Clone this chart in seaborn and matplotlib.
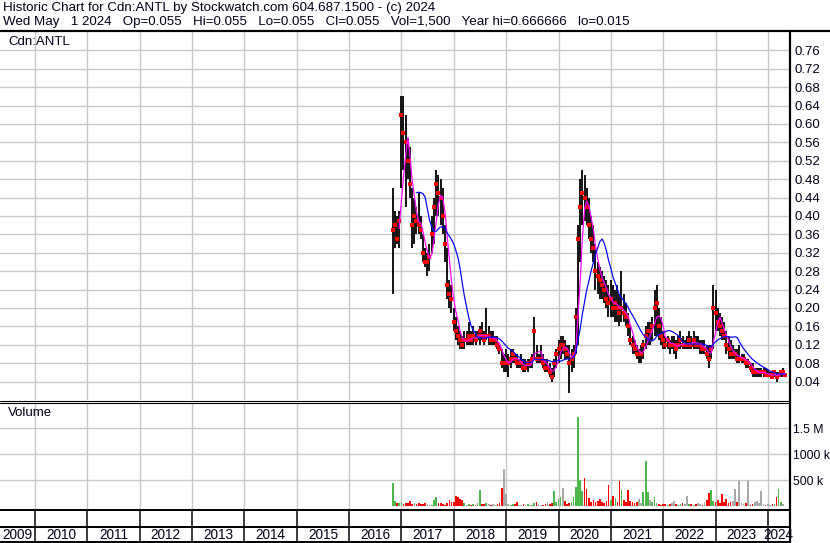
import numpy as np
import pandas as pd
import matplotlib
matplotlib.use("Agg")
import matplotlib.pyplot as plt
from matplotlib.lines import Line2D
import seaborn as sns

# semimonthly bars, Nov 2016 .. May 2024
period_start = "2016-11-01"
period_end = "2024-05-01"

highs = [
    0.46, 0.41, 0.40, 0.41,
    0.66, 0.66, 0.62, 0.57, 0.55, 0.46, 0.44, 0.42, 0.45, 0.40, 0.36, 0.33,
    0.32, 0.34, 0.40, 0.44, 0.50, 0.49, 0.48, 0.46, 0.38, 0.33, 0.26, 0.25,
    0.20, 0.18, 0.16, 0.15, 0.14, 0.15, 0.15, 0.17, 0.15, 0.16, 0.15, 0.15,
    0.16, 0.17, 0.15, 0.20, 0.16, 0.15, 0.15, 0.14, 0.14, 0.12, 0.11, 0.10,
    0.11, 0.10, 0.11, 0.11, 0.10, 0.10, 0.09, 0.10, 0.09, 0.09, 0.09, 0.09,
    0.10, 0.18, 0.12, 0.10, 0.12, 0.10, 0.09, 0.09, 0.08, 0.07, 0.09, 0.11,
    0.13, 0.14, 0.14, 0.13, 0.12, 0.12, 0.11, 0.12, 0.20, 0.38, 0.48, 0.50,
    0.49, 0.46, 0.44, 0.40, 0.38, 0.34, 0.30, 0.29, 0.28, 0.27, 0.26, 0.25,
    0.26, 0.25, 0.24, 0.25, 0.23, 0.28, 0.23, 0.21, 0.19, 0.16, 0.14, 0.13,
    0.12, 0.11, 0.12, 0.13, 0.16, 0.17, 0.17, 0.18, 0.24, 0.25, 0.20, 0.18,
    0.15, 0.14, 0.14, 0.13, 0.14, 0.14, 0.13, 0.14, 0.15, 0.14, 0.13, 0.14,
    0.15, 0.14, 0.15, 0.14, 0.14, 0.13, 0.13, 0.13, 0.12, 0.12, 0.12, 0.25,
    0.24, 0.20, 0.19, 0.18, 0.17, 0.15, 0.14, 0.13, 0.12, 0.11, 0.11, 0.12,
    0.10, 0.10, 0.09, 0.09, 0.08, 0.08, 0.07, 0.07, 0.07, 0.07, 0.07, 0.07,
    0.065, 0.06, 0.06, 0.065, 0.06, 0.06, 0.065, 0.07, 0.055,
]
lows = [
    0.23, 0.33, 0.34, 0.33,
    0.46, 0.50, 0.42, 0.48, 0.44, 0.33, 0.34, 0.36, 0.36, 0.35, 0.30, 0.29,
    0.27, 0.28, 0.32, 0.34, 0.40, 0.40, 0.38, 0.36, 0.30, 0.22, 0.20, 0.19,
    0.15, 0.13, 0.12, 0.11, 0.11, 0.11, 0.12, 0.12, 0.12, 0.12, 0.12, 0.13,
    0.12, 0.13, 0.12, 0.13, 0.12, 0.12, 0.12, 0.12, 0.11, 0.10, 0.07, 0.06,
    0.06, 0.05, 0.07, 0.08, 0.08, 0.07, 0.07, 0.07, 0.06, 0.06, 0.06, 0.07,
    0.07, 0.09, 0.08, 0.08, 0.08, 0.07, 0.06, 0.06, 0.05, 0.04, 0.05, 0.07,
    0.08, 0.09, 0.10, 0.09, 0.09, 0.015, 0.06, 0.07, 0.10, 0.12, 0.30, 0.38,
    0.39, 0.38, 0.35, 0.32, 0.30, 0.24, 0.23, 0.22, 0.22, 0.21, 0.20, 0.18,
    0.18, 0.18, 0.17, 0.17, 0.16, 0.17, 0.17, 0.16, 0.14, 0.12, 0.10, 0.10,
    0.09, 0.08, 0.08, 0.09, 0.11, 0.12, 0.12, 0.13, 0.14, 0.14, 0.13, 0.12,
    0.11, 0.11, 0.11, 0.10, 0.11, 0.10, 0.09, 0.11, 0.11, 0.11, 0.11, 0.11,
    0.11, 0.11, 0.11, 0.11, 0.11, 0.10, 0.10, 0.10, 0.09, 0.07, 0.09, 0.11,
    0.15, 0.15, 0.14, 0.13, 0.13, 0.10, 0.09, 0.09, 0.09, 0.09, 0.08, 0.08,
    0.08, 0.08, 0.07, 0.07, 0.06, 0.05, 0.05, 0.05, 0.05, 0.05, 0.05, 0.05,
    0.05, 0.05, 0.05, 0.05, 0.04, 0.05, 0.05, 0.05, 0.055,
]
closes = [
    0.37, 0.38, 0.35, 0.39,
    0.62, 0.58, 0.56, 0.52, 0.47, 0.38, 0.40, 0.39, 0.38, 0.37, 0.32, 0.30,
    0.30, 0.31, 0.36, 0.42, 0.47, 0.45, 0.44, 0.40, 0.34, 0.25, 0.23, 0.22,
    0.17, 0.15, 0.14, 0.13, 0.12, 0.13, 0.13, 0.14, 0.13, 0.14, 0.13, 0.14,
    0.15, 0.14, 0.13, 0.14, 0.14, 0.13, 0.13, 0.13, 0.12, 0.11, 0.08, 0.08,
    0.08, 0.08, 0.09, 0.10, 0.09, 0.08, 0.08, 0.08, 0.07, 0.07, 0.08, 0.08,
    0.09, 0.15, 0.09, 0.09, 0.09, 0.08, 0.07, 0.07, 0.06, 0.05, 0.08, 0.10,
    0.11, 0.12, 0.12, 0.11, 0.10, 0.08, 0.09, 0.10, 0.18, 0.35, 0.42, 0.45,
    0.44, 0.42, 0.38, 0.35, 0.33, 0.28, 0.27, 0.26, 0.25, 0.24, 0.22, 0.21,
    0.22, 0.20, 0.21, 0.20, 0.19, 0.20, 0.19, 0.18, 0.16, 0.13, 0.12, 0.11,
    0.10, 0.10, 0.10, 0.12, 0.14, 0.15, 0.15, 0.16, 0.20, 0.21, 0.16, 0.14,
    0.13, 0.12, 0.13, 0.12, 0.12, 0.12, 0.11, 0.12, 0.13, 0.12, 0.12, 0.12,
    0.13, 0.12, 0.13, 0.12, 0.12, 0.12, 0.11, 0.11, 0.10, 0.09, 0.11, 0.20,
    0.19, 0.17, 0.16, 0.15, 0.14, 0.12, 0.11, 0.10, 0.10, 0.10, 0.09, 0.09,
    0.09, 0.09, 0.08, 0.08, 0.07, 0.06, 0.06, 0.06, 0.06, 0.06, 0.06, 0.055,
    0.055, 0.055, 0.05, 0.06, 0.05, 0.055, 0.06, 0.06, 0.055,
]
# volume, thousands of shares (tallest daily bar seen in each half month)
volumes_k = [
    441, 102, 60, 57,
    80, 45, 70, 55, 102, 40, 65, 50, 57, 35, 40, 60,
    45, 30, 25, 122, 180, 70, 55, 38, 30, 60, 122, 90,
    85, 199, 173, 148, 115, 60, 25, 50, 30, 45, 25, 55,
    314, 40, 35, 57, 45, 30, 50, 20, 40, 60, 353, 718,
    237, 40, 30, 45, 35, 83, 30, 25, 40, 20, 40, 25,
    30, 60, 80, 45, 30, 25, 40, 83, 50, 60, 294, 90,
    141, 170, 353, 110, 40, 60, 83, 180, 372, 1711, 506, 290,
    538, 329, 150, 90, 120, 80, 110, 140, 90, 60, 100, 408,
    120, 200, 150, 90, 482, 317, 120, 80, 317, 110, 80, 60,
    90, 144, 60, 270, 870, 276, 120, 90, 180, 60, 40, 30,
    40, 50, 30, 40, 60, 100, 40, 30, 50, 60, 40, 196,
    50, 40, 30, 50, 60, 40, 30, 80, 120, 256, 313, 100,
    80, 120, 60, 237, 90, 141, 60, 80, 100, 324, 90, 484,
    60, 40, 70, 484, 30, 40, 90, 100, 60, 292, 40, 30,
    40, 30, 40, 50, 180, 330, 80, 50, 1.5,
]

price_ticks = [0.04, 0.08, 0.12, 0.16, 0.20, 0.24, 0.28, 0.32, 0.36, 0.40,
               0.44, 0.48, 0.52, 0.56, 0.60, 0.64, 0.68, 0.72, 0.76]
volume_ticks = [500e3, 1000e3, 1500e3]
volume_tick_labels = ["500 k", "1000 k", "1.5 M"]
year_labels = list(range(2009, 2025))

header_1 = "Historic Chart for Cdn:ANTL by Stockwatch.com 604.687.1500 - (c) 2024"
header_2 = ("Wed May   1 2024   Op=0.055   Hi=0.055   Lo=0.055   Cl=0.055   "
            "Vol=1,500   Year hi=0.666666   lo=0.015")
symbol = "Cdn:ANTL"

# ---- data frame
dates = pd.date_range(period_start, period_end, freq="SMS")
df = pd.DataFrame({"date": dates, "high": highs, "low": lows,
                   "close": closes, "volume": np.array(volumes_k) * 1000})
df["t"] = dates.year + (dates.dayofyear - 1) / (365 + dates.is_leap_year)
df["ma_short"] = df["close"].rolling(4).mean()
df["ma_long"] = df["close"].rolling(12).mean()
chg = df["close"].diff().fillna(1)
df["dir"] = np.where(chg > 0, "up", np.where(chg < 0, "down", "flat"))

sns.set_style("white")
plt.rcParams["font.family"] = ["Liberation Sans", "DejaVu Sans"]

W, H = 830, 543
TXT = "#00001a"
GRID = "#c8c8c8"
PX = 0.72  # one pixel in points


def box(l, t, r, b):
    return [l / W, 1 - b / H, (r - l) / W, (b - t) / H]


fig = plt.figure(figsize=(W / 100, H / 100), dpi=100)
fig.patch.set_facecolor("white")

x_left, x_right = 2009.332, 2024.401
years = np.arange(2010, 2025)

ax = fig.add_axes(box(0, 32, 789, 400))
axv = fig.add_axes(box(0, 403, 789, 509))
axd = fig.add_axes(box(0, 509, 789, 543))

for a in (ax, axv):
    a.set_xlim(x_left, x_right)
    a.set_xticks(years)
    a.tick_params(axis="x", length=0, labelbottom=False)
    a.grid(True, color=GRID, lw=1.4 * PX)
    a.set_axisbelow(True)
    for s in a.spines.values():
        s.set_visible(False)
    a.yaxis.tick_right()
    a.tick_params(axis="y", length=0, pad=4, labelsize=9.5, labelcolor=TXT)

# ---- price panel
ax.set_ylim(0, 0.80)
ax.set_yticks(price_ticks)
ax.set_yticklabels([f"{v:.2f}" for v in price_ticks])
ax.vlines(df["t"], df["low"], df["high"], color="black", lw=1.8 * PX, zorder=3)
sns.scatterplot(data=df, x="t", y="close", ax=ax, marker="s", s=6,
                color="red", linewidth=0, zorder=4, legend=False)
sns.lineplot(data=df, x="t", y="ma_short", ax=ax, color="#ff00ff",
             lw=1.2 * PX, zorder=5, legend=False)
sns.lineplot(data=df, x="t", y="ma_long", ax=ax, color="#0000ff",
             lw=1.2 * PX, zorder=5, legend=False)
ax.set_xlabel("")
ax.set_ylabel("")
ax.text(8 / 789, 1 - 10 / 368, symbol, transform=ax.transAxes, ha="left",
        va="center", fontsize=9.5, color=TXT)

# ---- volume panel
axv.set_ylim(-52e3, 1986e3)
axv.set_yticks(volume_ticks)
axv.set_yticklabels(volume_tick_labels)
axv.tick_params(axis="y", labelsize=8.8, pad=3)
bar_colors = {"up": "#4cb84c", "down": "#ff0000", "flat": "#a8a8a8"}
axv.bar(df["t"], df["volume"], width=1.7 / 52.36,
        color=[bar_colors[d] for d in df["dir"]], linewidth=0, zorder=3)
axv.text(8 / 789, 1 - 10 / 106, "Volume", transform=axv.transAxes,
         ha="left", va="center", fontsize=9.5, color=TXT)

# ---- date strip
axd.set_xlim(x_left, x_right)
axd.set_ylim(34, 0)
axd.axis("off")
axd.hlines([0.5, 18, 33], x_left, x_right, color="black", lw=2 * PX)
axd.vlines(years, 0, 33, color="black", lw=1.5 * PX)
for yr in year_labels:
    lo_t = max(yr, x_left)
    hi_t = min(yr + 1, x_right)
    axd.text((lo_t + hi_t) / 2, 26, str(yr), ha="center", va="center",
             fontsize=9.8, color=TXT, clip_on=False)

# ---- frame lines and header
fig.add_artist(Line2D([0, 1], [1 - 31 / H] * 2, color="black", lw=2.2 * PX))
fig.add_artist(Line2D([0, 789.5 / W], [1 - 400.5 / H] * 2, color="black", lw=1.1 * PX))
fig.add_artist(Line2D([0, 789.5 / W], [1 - 402.8 / H] * 2, color="black", lw=1.1 * PX))
fig.add_artist(Line2D([789.8 / W] * 2, [1 - 31 / H, 0], color="black", lw=2.2 * PX))
fig.text(3 / W, 1 - 8.5 / H, header_1, ha="left", va="center", fontsize=9.6, color=TXT)
fig.text(3 / W, 1 - 22.5 / H, header_2, ha="left", va="center", fontsize=9.6, color=TXT)

fig.savefig("out.png", dpi=100)
